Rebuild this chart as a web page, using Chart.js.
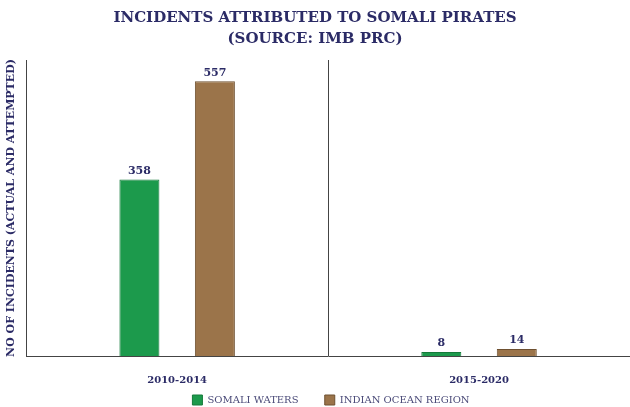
<!DOCTYPE html>
<html>
<head>
<meta charset="utf-8">
<script src="https://cdn.jsdelivr.net/npm/chart.js@4.4.1/dist/chart.umd.min.js"></script>
<style>
  html, body { margin: 0; padding: 0; background: #fff; }
  #wrap { width: 630px; height: 407px; }
</style>
</head>
<body>
<div id="wrap"><canvas id="myChart"></canvas></div>
<script>
// dados do gráfico
var periodos = ['2010-2014', '2015-2020'];
var somaliWaters = [358, 8];
var indianOcean = [557, 14];
var nomesSeries = ['SOMALI WATERS', 'INDIAN OCEAN REGION'];

var azul = '#2b2b66';
var fonteSerif = "'DejaVu Serif', 'Liberation Serif', serif";

// escreve o valor em cima de cada barra
const rotulosPlugin = {
  id: 'rotulos',
  afterLayout(chart) {
    // legenda centrada na área do gráfico e não no canvas
    chart.legend.left += 16;
    chart.legend.right += 16;
  },
  afterDatasetsDraw(chart) {
    const ctx = chart.ctx;
    ctx.save();
    ctx.fillStyle = azul;
    ctx.font = 'bold 11px ' + fonteSerif;
    ctx.textAlign = 'center';
    ctx.textBaseline = 'bottom';
    chart.data.datasets.forEach(function (ds, i) {
      chart.getDatasetMeta(i).data.forEach(function (bar, j) {
        ctx.fillText(ds.data[j], bar.x, bar.y - 3);
      });
    });
    ctx.restore();
  }
};

const ctx = document.getElementById('myChart');

new Chart(ctx, {
  type: 'bar',
  data: {
    labels: periodos,
    datasets: [{
      label: nomesSeries[0],
      data: somaliWaters,
      backgroundColor: '#1c9a4c',
      borderColor: '#147a3a',
      borderWidth: 1
    }, {
      label: nomesSeries[1],
      data: indianOcean,
      backgroundColor: '#9b744a',
      borderColor: '#6e5030',
      borderWidth: 1
    }]
  },
  options: {
    responsive: true,
    maintainAspectRatio: false,
    animation: false,
    categoryPercentage: 0.5,
    barPercentage: 0.53,
    layout: { padding: { left: 0, right: 0, top: 0, bottom: -8 } },
    plugins: {
      title: {
        display: true,
        text: ['INCIDENTS ATTRIBUTED TO SOMALI PIRATES', '(SOURCE: IMB PRC)'],
        color: azul,
        font: { family: fonteSerif, size: 15, weight: 'bold', lineHeight: 1.4 },
        padding: { top: 8, bottom: 10 }
      },
      legend: {
        position: 'bottom',
        labels: {
          color: '#4a4a78',
          font: { family: fonteSerif, size: 10 },
          boxWidth: 10,
          boxHeight: 10,
          padding: 4,
          // espaço extra entre os itens da legenda
          generateLabels: function (chart) {
            var itens = Chart.defaults.plugins.legend.labels.generateLabels(chart);
            itens.forEach(function (item, i) {
              if (i < itens.length - 1) item.text = item.text + '       ';
            });
            return itens;
          }
        }
      },
      tooltip: { enabled: false }
    },
    scales: {
      x: {
        offset: true,
        // eixo mais baixo para os rótulos ficarem perto da legenda
        afterFit: function (scale) {
          scale.height = scale.height - 13;
        },
        grid: {
          display: true,
          offset: true,
          drawTicks: false,
          color: '#444',
          lineWidth: 1
        },
        border: { display: true, color: '#444', width: 1 },
        ticks: {
          color: azul,
          font: { family: fonteSerif, size: 10, weight: 'bold' },
          padding: 18
        }
      },
      y: {
        min: 0,
        max: 600,
        grid: { display: false },
        border: { display: true, color: '#444', width: 1 },
        ticks: { display: false },
        title: {
          display: true,
          text: 'NO OF INCIDENTS (ACTUAL AND ATTEMPTED)',
          color: azul,
          font: { family: fonteSerif, size: 11, weight: 'bold' },
          padding: { top: 5, bottom: 0 }
        }
      }
    }
  },
  plugins: [rotulosPlugin]
});
</script>
</body>
</html>
